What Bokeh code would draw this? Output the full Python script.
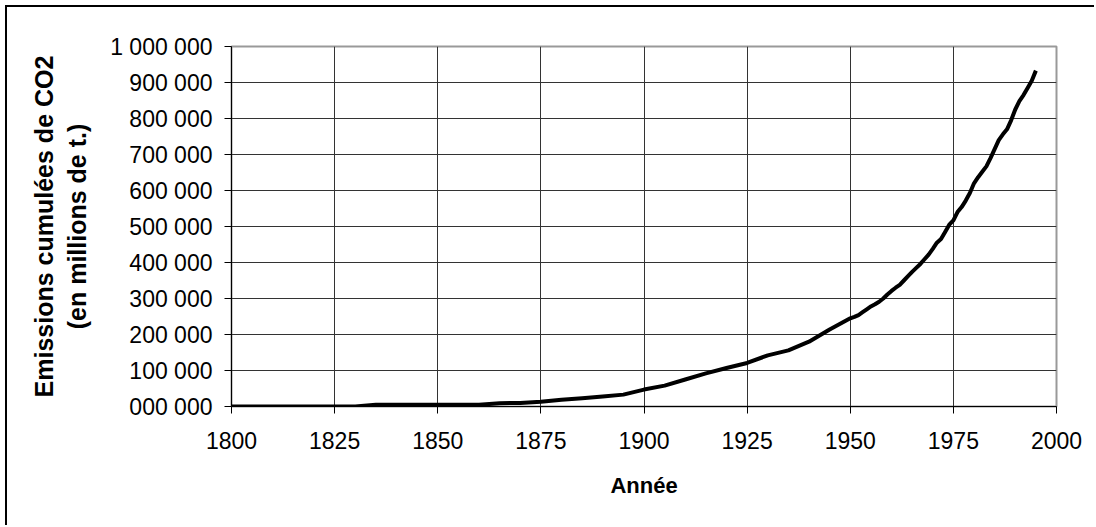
from bokeh.plotting import figure
from bokeh.models import FixedTicker, Range1d
from bokeh.embed import file_html
from bokeh.resources import INLINE

# ---- data ----
years = [1800, 1805, 1810, 1815, 1820, 1825, 1830, 1835, 1840, 1845,
         1850, 1855, 1860, 1865, 1870, 1875, 1880, 1885, 1890, 1895,
         1900, 1905, 1910, 1915, 1920, 1925, 1930, 1935, 1940, 1945,
         1950, 1951, 1952, 1953, 1954, 1955, 1956, 1957, 1958, 1959,
         1960, 1961, 1962, 1963, 1964, 1965, 1966, 1967, 1968, 1969,
         1970, 1971, 1972, 1973, 1974, 1975, 1976, 1977, 1978, 1979,
         1980, 1981, 1982, 1983, 1984, 1985, 1986, 1987, 1988, 1989,
         1990, 1991, 1992, 1993, 1994, 1995]
cumulative_co2 = [0, 0, 0, 0, 0, 0, 0, 5000, 5000, 5000,
                  5000, 5000, 5000, 9000, 10000, 13000, 19000, 23000, 28000, 33000,
                  47000, 58000, 75000, 92000, 107000, 121000, 142000, 156000, 180000, 214000,
                  245000, 249000, 254000, 262000, 270000, 278000, 284000, 291000, 300000, 311000,
                  321000, 330000, 338000, 350000, 362000, 374000, 385000, 396000, 409000, 422000,
                  438000, 455000, 465000, 485000, 505000, 517000, 540000, 554000, 572000, 593000,
                  620000, 637000, 652000, 667000, 690000, 715000, 740000, 756000, 770000, 795000,
                  825000, 848000, 865000, 885000, 905000, 933000]

x_ticks = [1800, 1825, 1850, 1875, 1900, 1925, 1950, 1975, 2000]
y_ticks = [0, 100000, 200000, 300000, 400000, 500000, 600000, 700000, 800000, 900000, 1000000]
y_tick_labels = ["000 000", "100 000", "200 000", "300 000", "400 000", "500 000",
                 "600 000", "700 000", "800 000", "900 000", "1 000 000"]

x_title = "Année"
y_title = "Emissions cumulées de CO2\n(en millions de t.)"

FONT = "Liberation Sans"

p = figure(width=1089, height=520, output_backend="svg", toolbar_location=None,
           x_range=Range1d(1800, 2000), y_range=Range1d(0, 1000000),
           min_border_left=224, min_border_right=40, min_border_top=39, min_border_bottom=121)
p.styles = {"margin-left": "5px", "margin-top": "5px",
            "border-left": "2px solid black", "border-top": "2px solid black"}

p.background_fill_color = "white"
p.border_fill_color = "white"
p.outline_line_color = "#999999"
p.outline_line_width = 2

p.line(years, cumulative_co2, line_color="black", line_width=4, line_join="round")

# axes
p.xaxis.ticker = FixedTicker(ticks=x_ticks)
p.yaxis.ticker = FixedTicker(ticks=y_ticks)
p.yaxis.major_label_overrides = {t: lab for t, lab in zip(y_ticks, y_tick_labels)}
p.xaxis.major_label_overrides = {t: str(t) for t in x_ticks}

for ax in (p.xaxis, p.yaxis):
    ax.axis_line_color = "black"
    ax.axis_line_width = 1
    ax.major_tick_line_color = "black"
    ax.major_tick_out = 7
    ax.major_tick_in = 0
    ax.minor_tick_line_color = None
    ax.major_label_text_font = FONT
    ax.major_label_text_font_size = "23px"
    ax.major_label_text_color = "black"
    ax.axis_label_text_font = FONT
    ax.axis_label_text_font_style = "bold"
    ax.axis_label_text_color = "black"

p.xaxis.major_label_standoff = 18
p.yaxis.major_label_standoff = 12
p.xaxis.axis_label = x_title
p.xaxis.axis_label_text_font_size = "22px"
p.xaxis.axis_label_standoff = 21
p.yaxis.axis_label = y_title
p.yaxis.axis_label_text_font_size = "25px"
p.yaxis.axis_label_standoff = 16

p.xgrid.grid_line_color = "#333333"
p.ygrid.grid_line_color = "#333333"
p.xgrid.grid_line_width = 1
p.ygrid.grid_line_width = 1

open("out.html", "w").write(file_html(p, INLINE))
